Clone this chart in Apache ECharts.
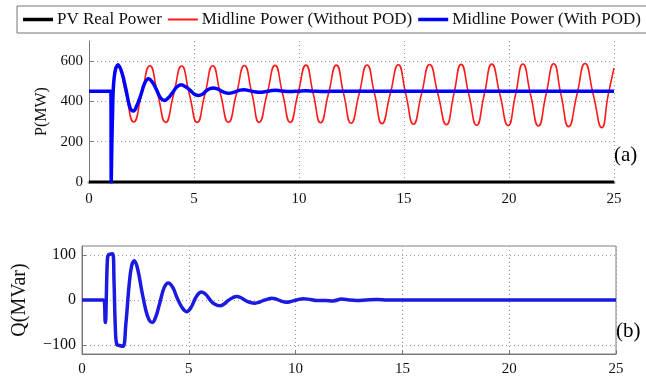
<!DOCTYPE html>
<html><head><meta charset="utf-8">
<script src="https://cdn.jsdelivr.net/npm/echarts@6/dist/echarts.min.js"></script>
<style>html,body{margin:0;padding:0;background:#fff}#c{width:646px;height:379px}</style>
</head><body><div id="c"></div>
<script>
// ---- data ----
const seriesNames = ['PV Real Power', 'Midline Power (Without POD)', 'Midline Power (With POD)'];
const xTicks = [0, 5, 10, 15, 20, 25];
const pTicks = [0, 200, 400, 600];
const qTicks = [-100, 0, 100];

// PV real power (MW)
const pvPower = [[0, 0], [25, 0]];

// Midline power without POD (MW): peaks, crossings, troughs
const midNoPod = [
  [0, 450], [1.04, 450], [1.06, 0], [1.08, 0], [1.12, 330], [1.2, 520], [1.38, 580],
  [1.75, 440], [2.13, 298], [2.51, 438], [2.9, 577], [3.27, 437], [3.65, 296], [4.03, 436],
  [4.41, 576], [4.78, 436], [5.15, 296], [5.52, 436], [5.89, 577], [6.26, 437], [6.64, 297],
  [7.02, 437], [7.4, 578], [7.76, 437], [8.1, 296], [8.48, 437], [8.86, 579], [9.22, 438],
  [9.58, 296], [9.95, 438], [10.33, 580], [10.68, 437], [11.03, 294], [11.4, 437], [11.78, 580],
  [12.13, 436], [12.48, 292], [12.86, 436], [13.24, 581], [13.6, 436], [13.95, 290], [14.34, 436],
  [14.73, 582], [15.09, 434], [15.45, 287], [15.83, 435], [16.22, 583], [16.62, 434], [17.02, 284],
  [17.37, 434], [17.72, 584], [18.09, 433], [18.46, 282], [18.82, 433], [19.18, 585], [19.57, 433],
  [19.96, 280], [20.31, 433], [20.66, 586], [21.03, 432], [21.4, 278], [21.76, 432], [22.13, 587],
  [22.48, 431], [22.84, 275], [23.23, 431], [23.62, 588], [24.02, 430], [24.42, 270], [24.72, 430],
  [25, 565]
];

// Midline power with POD (MW)
const midWithPod = [
  [0, 450], [1.04, 450], [1.06, 0], [1.08, 0], [1.12, 330], [1.2, 520], [1.38, 582],
  [1.56, 545], [1.75, 465], [1.95, 370], [2.11, 352], [2.3, 385], [2.47, 432], [2.65, 490],
  [2.83, 513], [3.02, 495], [3.21, 459], [3.4, 418], [3.59, 405], [3.8, 420], [3.98, 444],
  [4.18, 472], [4.38, 483], [4.6, 473], [4.82, 455], [5.0, 437], [5.2, 430], [5.4, 436],
  [5.58, 452], [5.75, 463], [5.92, 467], [6.12, 462], [6.3, 452], [6.48, 444], [6.65, 441],
  [6.85, 444], [7.02, 450], [7.2, 456], [7.38, 458], [7.58, 455], [7.78, 450], [7.96, 447],
  [8.15, 446], [8.35, 448], [8.52, 451], [8.7, 454], [8.9, 455], [9.1, 453], [9.27, 451],
  [9.45, 449], [9.6, 449], [9.8, 450], [10.0, 451], [10.3, 453], [10.7, 451], [11.2, 449],
  [11.8, 451], [12.5, 450], [13.5, 451], [14.5, 450], [25, 450]
];

// Reactive power (MVar)
const qPower = [
  [0, 0], [1.0, 0], [1.05, -2], [1.08, -45], [1.1, -50], [1.13, -10], [1.19, 90], [1.25, 101],
  [1.35, 102], [1.44, 103], [1.5, 40], [1.56, -60], [1.63, -99], [1.75, -101], [1.92, -103],
  [2.05, -55], [2.2, 30], [2.32, 75], [2.45, 87], [2.6, 70], [2.8, 20], [3.0, -25], [3.15, -45],
  [3.29, -50], [3.45, -38], [3.65, -5], [3.85, 28], [4.04, 38], [4.25, 28], [4.45, 5],
  [4.7, -18], [4.9, -26], [5.1, -17], [5.3, 3], [5.45, 14], [5.6, 18], [5.8, 12], [6.0, 0],
  [6.2, -9], [6.46, -13], [6.65, -9], [6.85, -1], [7.05, 5], [7.24, 8], [7.45, 5], [7.65, -1],
  [7.85, -5], [8.1, -7], [8.3, -5], [8.5, -1], [8.7, 2], [8.88, 4], [9.1, 2], [9.3, -2],
  [9.58, -5], [9.8, -3], [10.05, 0], [10.36, 3], [10.7, 1], [11.0, -1], [11.4, -1], [11.75, -2],
  [12.16, 2], [12.5, 0], [12.86, -1], [13.3, 0], [13.8, 1], [14.3, 0], [16.5, 0], [17, 0], [25, 0]
];

// ---- chart ----
const FONT = "'Liberation Serif', 'Times New Roman', serif";
const chart = echarts.init(document.getElementById('c'), null, { renderer: 'canvas' });
const gridLine = { show: true, lineStyle: { color: '#9a9a9a', type: [1, 3], width: 1 } };
const axisLineGray = { show: true, lineStyle: { color: '#777', width: 1 } };
const lbl = { color: '#111', fontFamily: FONT, fontSize: 15 };
// legend line icons: tiny corner specks fix the bounding box so the bar keeps its thickness
const thickIcon = 'path://M0,3.3H30V6.7H0Z M0,0H0.01V0.01H0Z M29.99,9.99H30V10H29.99Z';
const thinIcon = 'path://M0,4.1H30V5.9H0Z M0,0H0.01V0.01H0Z M29.99,9.99H30V10H29.99Z';

chart.setOption({
  animation: false,
  backgroundColor: '#fff',
  title: [
    { text: '(a)', left: 614, top: 145, padding: 0, textStyle: { fontFamily: FONT, fontSize: 21, fontWeight: 'normal', color: '#000' } },
    { text: '(b)', left: 616, top: 321, padding: 0, textStyle: { fontFamily: FONT, fontSize: 21, fontWeight: 'normal', color: '#000' } }
  ],
  legend: {
    left: 17, top: 6, width: 700, padding: [5, 6], itemGap: 6, itemWidth: 30, itemHeight: 10,
    borderColor: '#777', borderWidth: 1, backgroundColor: '#fff',
    textStyle: { fontFamily: FONT, fontSize: 17, color: '#111', padding: [0, 0, 0, -1] },
    data: [
      { name: seriesNames[0], icon: thickIcon },
      { name: seriesNames[1], icon: thinIcon },
      { name: seriesNames[2], icon: thickIcon }
    ]
  },
  grid: [
    { left: 89, right: 32, top: 41, height: 141, show: false },
    { left: 82, right: 30, top: 246, height: 108, show: true, borderColor: '#808080', borderWidth: 1 }
  ],
  xAxis: [
    { gridIndex: 0, type: 'value', min: 0, max: 25, interval: 5,
      axisLine: { show: true, onZero: false, lineStyle: { color: '#999', width: 3 } },
      axisTick: { show: false }, axisLabel: Object.assign({ margin: 10 }, lbl),
      splitLine: gridLine },
    { gridIndex: 1, type: 'value', min: 0, max: 25, interval: 5,
      axisLine: Object.assign({ onZero: false }, axisLineGray),
      axisTick: { show: true, inside: true, length: 4, lineStyle: { color: '#777' } },
      axisLabel: Object.assign({ margin: 8 }, lbl),
      splitLine: gridLine }
  ],
  yAxis: [
    { gridIndex: 0, type: 'value', min: 0, max: 700,
      name: 'P(MW)', nameLocation: 'middle', nameGap: 29, nameRotate: 90,
      nameTextStyle: { fontFamily: FONT, fontSize: 16, color: '#111' },
      axisLine: axisLineGray,
      axisTick: { show: true, inside: true, length: 4, customValues: pTicks, lineStyle: { color: '#777' } },
      axisLabel: Object.assign({ margin: 6, customValues: pTicks }, lbl),
      splitLine: gridLine },
    { gridIndex: 1, type: 'value', min: -120, max: 120,
      name: 'Q(MVar)', nameLocation: 'middle', nameGap: 52, nameRotate: 90,
      nameTextStyle: { fontFamily: FONT, fontSize: 20, color: '#111' },
      axisLine: axisLineGray,
      axisTick: { show: true, inside: true, length: 4, customValues: qTicks, lineStyle: { color: '#777' } },
      axisLabel: Object.assign({ margin: 6, customValues: qTicks, formatter: v => String(v).replace('-', '\u2212') }, lbl, { fontSize: 16 }),
      splitLine: gridLine }
  ],
  series: [
    { name: seriesNames[0], type: 'line', xAxisIndex: 0, yAxisIndex: 0, data: pvPower, showSymbol: false, symbol: 'none',
      lineStyle: { color: '#000', width: 3 }, itemStyle: { color: '#000' }, z: 3 },
    { name: seriesNames[1], type: 'line', xAxisIndex: 0, yAxisIndex: 0, data: midNoPod, showSymbol: false, symbol: 'none', smooth: 0.55,
      lineStyle: { color: '#ff1a1a', width: 1.6 }, itemStyle: { color: '#ff1a1a' }, z: 4 },
    { name: seriesNames[2], type: 'line', xAxisIndex: 0, yAxisIndex: 0, data: midWithPod, showSymbol: false, symbol: 'none', smooth: 0.4,
      lineStyle: { color: '#0000ff', width: 3.5 }, itemStyle: { color: '#0000ff' }, z: 5 },
    { name: 'Q', type: 'line', xAxisIndex: 1, yAxisIndex: 1, data: qPower, showSymbol: false, symbol: 'none', smooth: 0.4,
      lineStyle: { color: '#1a1ae0', width: 3.5 }, itemStyle: { color: '#1a1ae0' }, z: 5 }
  ]
});
</script></body></html>
